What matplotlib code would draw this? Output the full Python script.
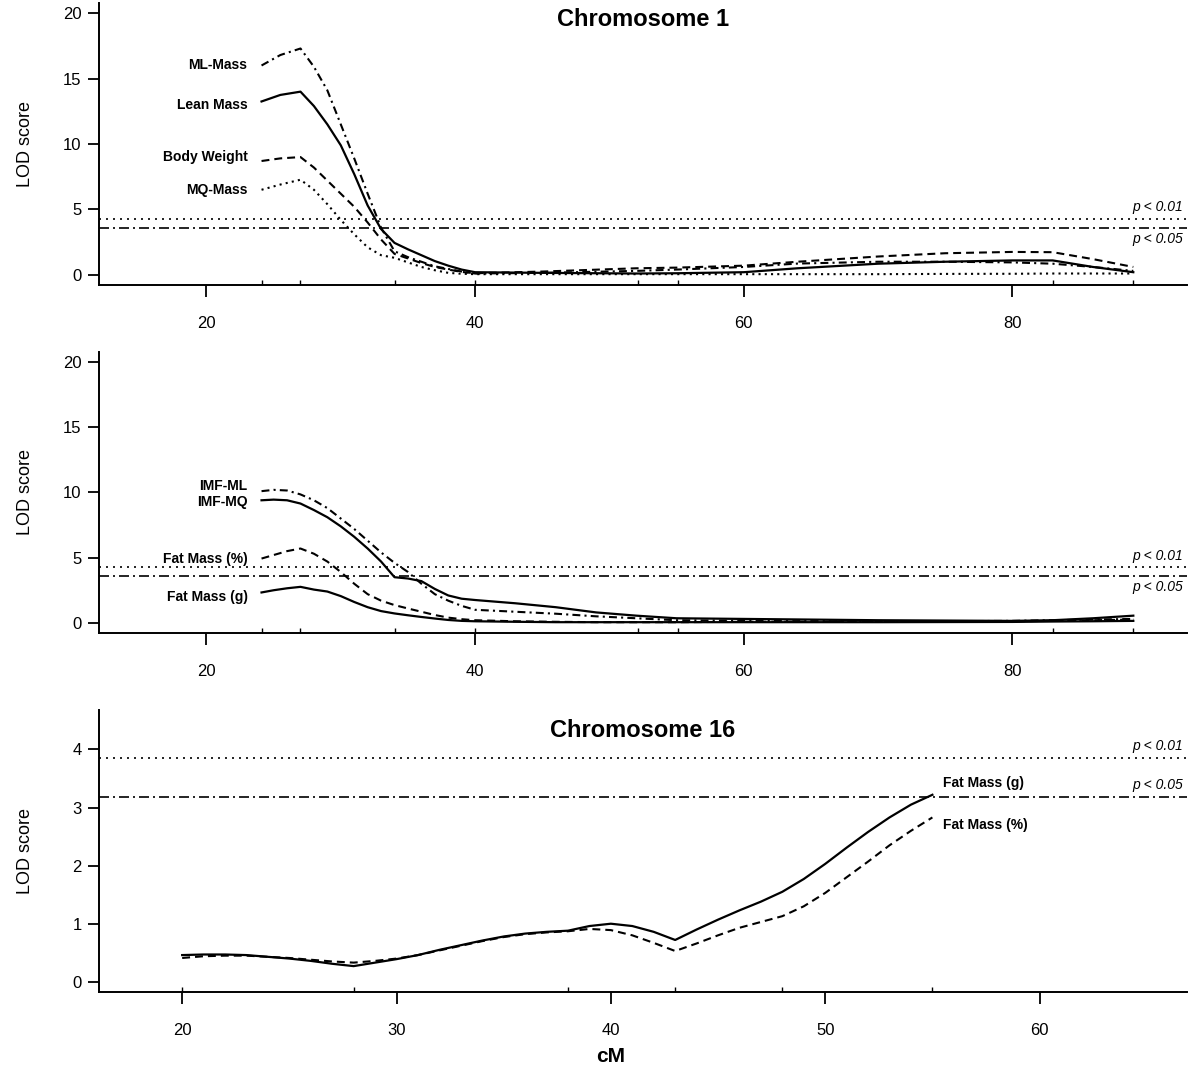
import matplotlib
matplotlib.use("Agg")
import matplotlib.pyplot as plt

plt.rcParams['font.family'] = ['Liberation Sans', 'DejaVu Sans']

# ---- Chromosome 1 (top panel) ----
chr1_cm = [24.1, 25.5, 27, 28, 29, 30, 31, 32, 33, 34, 35, 36, 37, 38, 39, 40,
           45, 52, 55, 60, 64, 70, 75, 80, 83, 86, 89]
lean_mass = [13.25, 13.75, 14.0, 12.9, 11.5, 9.9, 7.7, 5.3, 3.5, 2.44, 1.95, 1.5, 1.05, 0.7, 0.4, 0.2,
             0.15, 0.1, 0.12, 0.2, 0.5, 0.85, 1.0, 1.1, 1.1, 0.6, 0.2]
body_weight = [8.7, 8.9, 9.0, 8.2, 7.2, 6.2, 5.2, 4.0, 2.7, 1.6, 1.25, 0.9, 0.6, 0.4, 0.22, 0.12,
               0.25, 0.5, 0.55, 0.7, 1.0, 1.4, 1.65, 1.75, 1.73, 1.2, 0.6]
ml_mass = [16.0, 16.8, 17.3, 15.9, 14.1, 11.5, 8.9, 6.2, 3.6, 1.8, 1.35, 1.0, 0.65, 0.45, 0.25, 0.1,
           0.15, 0.3, 0.4, 0.6, 0.86, 1.0, 1.0, 0.95, 0.85, 0.6, 0.3]
mq_mass = [6.5, 6.9, 7.27, 6.5, 5.4, 4.2, 3.1, 2.1, 1.5, 1.3, 0.95, 0.6, 0.35, 0.15, 0.08, 0.05,
           0.05, 0.05, 0.05, 0.05, 0.05, 0.05, 0.07, 0.08, 0.1, 0.1, 0.1]

# ---- Chromosome 1 (middle panel) ----
chr1b_cm = [24.1, 25, 26, 27, 28, 29, 30, 31, 32, 33, 34, 35, 36, 37, 38, 39, 40,
            43, 46, 49, 52, 55, 60, 70, 80, 83, 86, 89]
imf_ml = [10.1, 10.2, 10.15, 9.85, 9.4, 8.8, 8.0, 7.2, 6.3, 5.4, 4.6, 3.9, 3.0, 2.2, 1.7, 1.3, 1.0,
          0.85, 0.7, 0.5, 0.35, 0.2, 0.15, 0.1, 0.15, 0.2, 0.25, 0.3]
imf_mq = [9.4, 9.45, 9.4, 9.15, 8.65, 8.1, 7.4, 6.6, 5.7, 4.7, 3.5, 3.4, 3.2, 2.6, 2.1, 1.85, 1.75,
          1.5, 1.2, 0.8, 0.55, 0.35, 0.3, 0.2, 0.15, 0.2, 0.35, 0.55]
fat_pct1 = [4.93, 5.2, 5.5, 5.7, 5.3, 4.7, 3.9, 3.0, 2.2, 1.7, 1.36, 1.1, 0.85, 0.6, 0.4, 0.28, 0.2,
            0.12, 0.08, 0.05, 0.05, 0.05, 0.08, 0.1, 0.12, 0.15, 0.2, 0.25]
fat_g1 = [2.33, 2.5, 2.65, 2.76, 2.55, 2.4, 2.05, 1.6, 1.2, 0.9, 0.72, 0.58, 0.45, 0.33, 0.22, 0.15, 0.12,
          0.08, 0.05, 0.05, 0.05, 0.05, 0.05, 0.05, 0.07, 0.1, 0.12, 0.15]

chr1_markers = [24.1, 27.0, 34.0, 40.0, 52.1, 55.1, 83.0, 89.0]
chr1_thresh = [4.3, 3.6]

# ---- Chromosome 16 (bottom panel) ----
chr16_cm = list(range(20, 56))
fat_g16 = [0.46, 0.47, 0.47, 0.46, 0.43, 0.4, 0.36, 0.31, 0.27, 0.33, 0.39, 0.46, 0.55, 0.63, 0.71,
           0.78, 0.83, 0.86, 0.88, 0.96, 1.0, 0.96, 0.86, 0.72, 0.9, 1.07, 1.23, 1.38, 1.55, 1.77,
           2.03, 2.31, 2.58, 2.83, 3.05, 3.22]
fat_pct16 = [0.41, 0.44, 0.45, 0.45, 0.43, 0.41, 0.38, 0.35, 0.33, 0.36, 0.4, 0.46, 0.54, 0.62, 0.7,
             0.77, 0.82, 0.85, 0.87, 0.91, 0.89, 0.8, 0.67, 0.53, 0.66, 0.8, 0.93, 1.03, 1.13, 1.3,
             1.53, 1.8, 2.07, 2.35, 2.6, 2.83]
chr16_markers = [20, 28, 38, 43, 48, 55]
chr16_thresh = [3.86, 3.19]

SOLID = '-'
DASHED = (0, (3.8, 2.4))
DOTTED = (0, (1.0, 2.0))
DASHDOT = (0, (3.8, 2.0, 1.0, 2.0))


def style_axes(ax, xlim, ylim, xticks, yticks, markers):
    ax.set_xlim(xlim)
    ax.set_ylim(ylim)
    for s in ['top', 'right']:
        ax.spines[s].set_visible(False)
    for s in ['left', 'bottom']:
        ax.spines[s].set_linewidth(1.4)
    ax.set_xticks(xticks)
    ax.set_yticks(yticks)
    ax.set_xticks(markers, minor=True)
    ax.xaxis.remove_overlapping_locs = False
    ax.tick_params(axis='x', which='major', length=8.6, width=1.3, labelsize=12, pad=13.5)
    ax.tick_params(axis='x', which='minor', direction='in', length=3.6, width=1.0)
    ax.tick_params(axis='y', which='major', length=8, width=1.3, labelsize=12, pad=4.5)
    ax.set_ylabel('LOD score', fontsize=13, va='center')
    ax.yaxis.set_label_coords(-0.068, 0.5)


def thresholds(ax, t01, t05, both_above=False):
    ax.axhline(t01, color='black', lw=1.2, ls=(0, (1.2, 3.0)))
    ax.axhline(t05, color='black', lw=1.2, ls=(0, (6, 2.4, 1.2, 2.4)))
    tr = ax.get_yaxis_transform()
    ax.annotate('p < 0.01', (0.996, t01), xycoords=tr, xytext=(0, 3), textcoords='offset points',
                ha='right', va='bottom', style='italic', fontsize=10)
    if both_above:
        ax.annotate('p < 0.05', (0.996, t05), xycoords=tr, xytext=(0, 3), textcoords='offset points',
                    ha='right', va='bottom', style='italic', fontsize=10)
    else:
        ax.annotate('p < 0.05', (0.996, t05), xycoords=tr, xytext=(0, -3), textcoords='offset points',
                    ha='right', va='top', style='italic', fontsize=10)


fig = plt.figure(figsize=(12, 10.79), dpi=100)
ax1 = fig.add_axes([0.0825, 0.7356, 0.9067, 0.2619])
ax2 = fig.add_axes([0.0825, 0.4131, 0.9067, 0.2610])
ax3 = fig.add_axes([0.0825, 0.0804, 0.9067, 0.2616])

# top panel
style_axes(ax1, (12, 93), (-0.8, 20.8), [20, 40, 60, 80], [0, 5, 10, 15, 20], chr1_markers)
thresholds(ax1, *chr1_thresh)
ax1.plot(chr1_cm, ml_mass, color='black', lw=1.5, ls=DASHDOT)
ax1.plot(chr1_cm, lean_mass, color='black', lw=1.6, ls=SOLID)
ax1.plot(chr1_cm, body_weight, color='black', lw=1.5, ls=DASHED)
ax1.plot(chr1_cm, mq_mass, color='black', lw=1.5, ls=DOTTED)
for name, y in [('ML-Mass', 16.0), ('Lean Mass', 13.0), ('Body Weight', 9.03), ('MQ-Mass', 6.51)]:
    ax1.text(23.06, y, name, ha='right', va='center', fontsize=10, fontweight='bold')
ax1.text(0.5, 0.94, 'Chromosome 1', transform=ax1.transAxes, ha='center', va='center',
         fontsize=17, fontweight='bold')

# middle panel
style_axes(ax2, (12, 93), (-0.8, 20.8), [20, 40, 60, 80], [0, 5, 10, 15, 20], chr1_markers)
thresholds(ax2, *chr1_thresh)
ax2.plot(chr1b_cm, imf_ml, color='black', lw=1.5, ls=DASHDOT)
ax2.plot(chr1b_cm, imf_mq, color='black', lw=1.6, ls=SOLID)
ax2.plot(chr1b_cm, fat_pct1, color='black', lw=1.5, ls=DASHED)
ax2.plot(chr1b_cm, fat_g1, color='black', lw=1.6, ls=SOLID)
for name, y in [('IMF-ML', 10.5), ('IMF-MQ', 9.23), ('Fat Mass (%)', 4.93), ('Fat Mass (g)', 1.99)]:
    ax2.text(23.06, y, name, ha='right', va='center', fontsize=10, fontweight='bold')

# bottom panel
style_axes(ax3, (16.12, 66.88), (-0.18, 4.68), [20, 30, 40, 50, 60], [0, 1, 2, 3, 4], chr16_markers)
thresholds(ax3, *chr16_thresh, both_above=True)
ax3.plot(chr16_cm, fat_g16, color='black', lw=1.6, ls=SOLID)
ax3.plot(chr16_cm, fat_pct16, color='black', lw=1.5, ls=DASHED)
ax3.text(55.5, 3.42, 'Fat Mass (g)', ha='left', va='center', fontsize=10, fontweight='bold')
ax3.text(55.5, 2.70, 'Fat Mass (%)', ha='left', va='center', fontsize=10, fontweight='bold')
ax3.text(0.5, 0.929, 'Chromosome 16', transform=ax3.transAxes, ha='center', va='center',
         fontsize=17, fontweight='bold')

fig.text(611 / 1200, 1 - 1057 / 1079, 'cM', ha='center', va='center', fontsize=15, fontweight='bold')

fig.savefig('out.png', dpi=100)
